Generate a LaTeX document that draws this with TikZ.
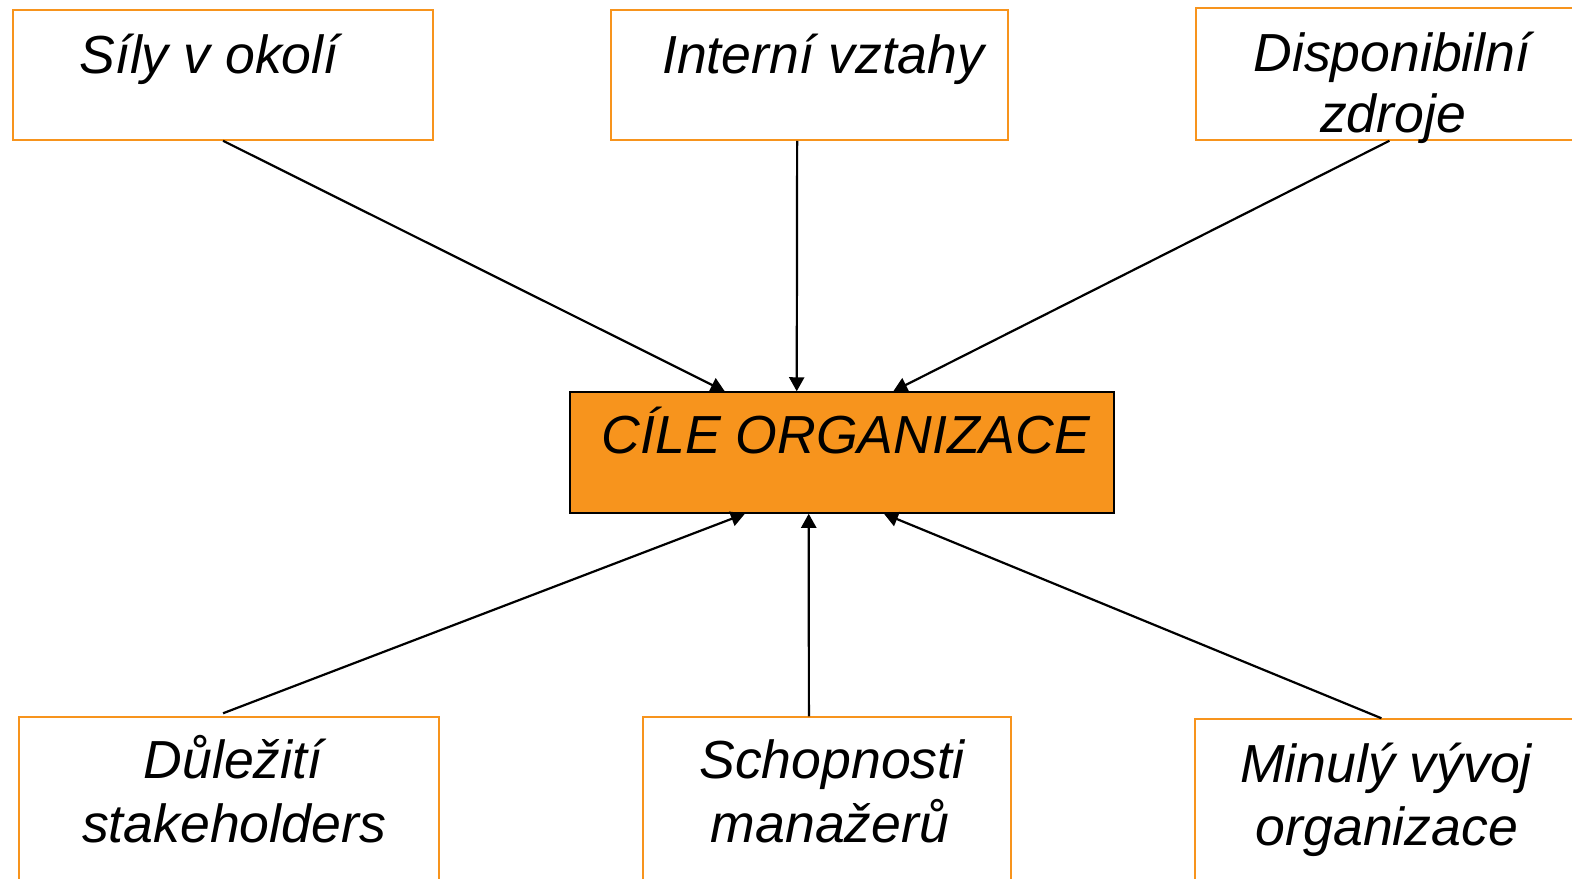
\documentclass[tikz,border=0pt]{standalone}
\usepackage{fontspec}
\setmainfont{Liberation Sans}
\usetikzlibrary{fit,calc,arrows.meta}
\definecolor{orgorange}{HTML}{F7941D}
\tikzset{
  framebox/.style={draw=orgorange, line width=0.75pt, inner sep=0pt, fill=white},
  goalbox/.style={draw=black, line width=0.75pt, inner sep=0pt, fill=orgorange},
  label/.style={anchor=base, inner sep=0pt, font=\fontsize{26.8}{32}\selectfont\itshape},
  link/.style={line width=1.1pt, -{Triangle[length=7pt,width=7.5pt]}}
}
\begin{document}
\begin{tikzpicture}[x=0.5pt,y=-0.5pt]
\useasboundingbox (0,0) rectangle (1572,878);

% outer factor boxes
\node[framebox, fit={(13,10) (433,140)}] (b1) {};
\node[framebox, fit={(611,10) (1008,140)}] (b2) {};
\node[framebox, fit={(1196,8) (1590,140)}] (b3) {};
\node[framebox, fit={(19,717) (439,900)}] (b5) {};
\node[framebox, fit={(643,717) (1011,900)}] (b6) {};
\node[framebox, fit={(1195,719) (1590,900)}] (b7) {};

% central goal box
\node[goalbox, fit={(570,392) (1114,513)}] (c) {};

% labels
\node[label] (t1) at (209,73) {Síly v okolí};
\node[label] (t2) at (823,73) {Interní vztahy};
\node[label] (t3a) at (1392,71) {Disponibilní};
\node[label] (t3b) at (1393,132) {zdroje};
\node[label] (tc) at (846,453) {CÍLE ORGANIZACE};
\node[label] (t5a) at (233,778) {Důležití};
\node[label] (t5b) at (234,842) {stakeholders};
\node[label] (t6a) at (832,778) {Schopnosti};
\node[label] (t6b) at (830,842) {manažerů};
\node[label] (t7a) at (1386,782) {Minulý vývoj};
\node[label] (t7b) at (1387,845) {organizace};

% connectors into the goal box
\draw[link] (b1.south) -- ($(c.north west)!0.285!(c.north east)$);
\draw[link] ($(b2.south west)!0.469!(b2.south east)$) -- ($(c.north west)!0.417!(c.north east)$);
\draw[link] ($(b3.south west)!0.491!(b3.south east)$) -- ($(c.north west)!0.594!(c.north east)$);
\draw[link] ([yshift=1.5pt]$(b5.north west)!0.486!(b5.north east)$) -- ($(c.south west)!0.322!(c.south east)$);
\draw[link] ($(b6.north west)!0.451!(b6.north east)$) -- ($(c.south west)!0.439!(c.south east)$);
\draw[link] ($(b7.north west)!0.472!(b7.north east)$) -- ($(c.south west)!0.577!(c.south east)$);
\end{tikzpicture}
\end{document}
